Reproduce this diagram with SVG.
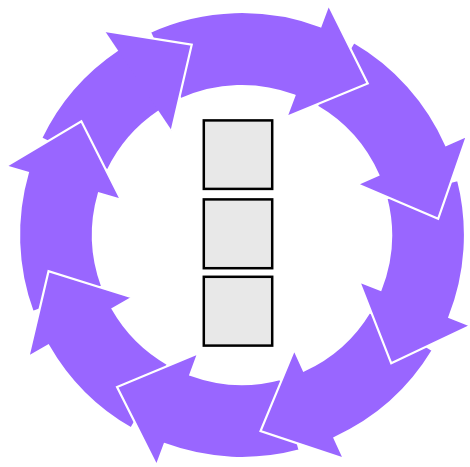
<svg xmlns="http://www.w3.org/2000/svg" width="470" height="467" viewBox="0 0 470 467">
<style>
.arrow{fill:#9966ff;stroke:#ffffff;stroke-width:2.2;stroke-linejoin:miter}
.headfill{fill:#9966ff;stroke:none}
.headline{fill:none;stroke:#ffffff;stroke-width:2.2;stroke-linejoin:miter}
.box{fill:#e8e8e8;stroke:#000000;stroke-width:2.5}
</style>
<rect x="0" y="0" width="470" height="467" fill="#ffffff"/>
<g id="cycle">
<g id="arrow-a" transform="translate(242,235) rotate(-33.9)">
<path class="arrow" d="M0,-223 A223,223 0 0 0 -112.84,-192.34 L-75.40,-128.51 A149,149 0 0 1 0,-149 L0,-126 L64.4,-186 L0,-246 Z"/>
</g>
<g id="arrow-h" transform="translate(242,235) rotate(-73.8)">
<path class="arrow" d="M0,-223 A223,223 0 0 0 -132.33,-179.49 L-88.42,-119.93 A149,149 0 0 1 0,-149 L0,-126 L64.4,-186 L0,-246 Z"/>
</g>
<g id="arrow-g" transform="translate(242,235) rotate(240.3)">
<path class="arrow" d="M0,-223 A223,223 0 0 0 -113.18,-192.14 L-75.62,-128.38 A149,149 0 0 1 0,-149 L0,-126 L64.4,-186 L0,-246 Z"/>
</g>
<g id="arrow-f" transform="translate(242,235) rotate(200.3)">
<path class="arrow" d="M0,-223 A223,223 0 0 0 -128.86,-182.00 L-86.10,-121.60 A149,149 0 0 1 0,-149 L0,-126 L64.4,-186 L0,-246 Z"/>
</g>
<g id="arrow-e" transform="translate(242,235) rotate(155.5)">
<path class="arrow" d="M0,-223 A223,223 0 0 0 -125.99,-184.00 L-84.18,-122.94 A149,149 0 0 1 0,-149 L0,-126 L64.4,-186 L0,-246 Z"/>
</g>
<g id="arrow-d" transform="translate(242,235) rotate(111.6)">
<path class="arrow" d="M0,-223 A223,223 0 0 0 -130.76,-180.64 L-87.37,-120.70 A149,149 0 0 1 0,-149 L0,-126 L64.4,-186 L0,-246 Z"/>
</g>
<g id="arrow-c" transform="translate(242,235) rotate(66.2)">
<path class="arrow" d="M0,-223 A223,223 0 0 0 -131.39,-180.18 L-87.79,-120.39 A149,149 0 0 1 0,-149 L0,-126 L64.4,-186 L0,-246 Z"/>
</g>
<g id="arrow-b" transform="translate(242,235) rotate(20.6)">
<path class="arrow" d="M0,-223 A223,223 0 0 0 -157.68,-157.68 L-105.36,-105.36 A149,149 0 0 1 0,-149 L0,-126 L64.4,-186 L0,-246 Z"/>
</g>
<g id="arrow-a-head" transform="translate(242,235) rotate(-33.9)">
<polygon class="headfill" points="0,-246 64.4,-186 0,-126"/>
<polyline class="headline" points="0,-246 64.4,-186 0,-126"/>
</g>
</g>
<g id="box-1"><rect class="box" x="203.8" y="120.4" width="68.4" height="68.5"/></g>
<g id="box-2"><rect class="box" x="203.8" y="199.4" width="68.4" height="68.8"/></g>
<g id="box-3"><rect class="box" x="203.8" y="276.8" width="68.4" height="68.8"/></g>
</svg>
